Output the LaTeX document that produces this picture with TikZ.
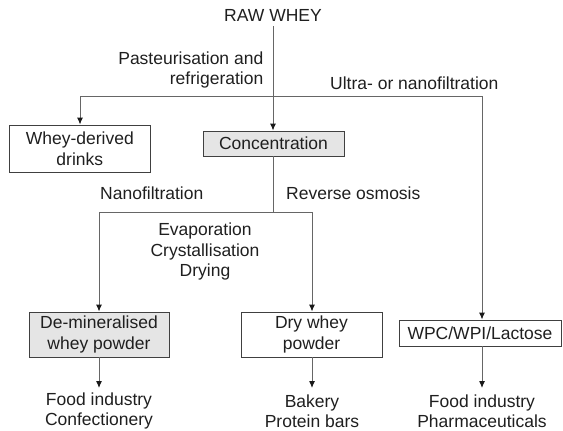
\documentclass[tikz,border=0pt]{standalone}
\usepackage{fontspec}
\setmainfont{Liberation Sans}
\usetikzlibrary{arrows.meta}
\begin{document}
\begin{tikzpicture}[x=1pt,y=-1pt,
  every node/.style={font=\fontsize{17.5}{20.5}\selectfont, text=black!88, inner sep=0pt},
  box/.style={draw=black!75, line width=0.9pt, align=center, minimum height=26pt},
  grey/.style={fill=black!10},
  conn/.style={draw=black!60, line width=1pt},
  arr/.style={conn, -{Latex[length=7pt,width=6pt,color=black!90]}},
  lbl/.style={align=center}]
\useasboundingbox (0,0) rectangle (563,431);
% nodes
\node (raw) at (273,15) {RAW WHEY};
\node[box, minimum width=141.5pt, minimum height=47pt] (drinks) at (79.8,148.5) {Whey-derived\\drinks};
\node[box, grey, minimum width=141pt, minimum height=25pt] (conc) at (273.5,143.5) {Concentration};
\node[box, grey, minimum width=140pt, minimum height=45pt] (demin) at (99,334.5) {De-mineralised\\whey powder};
\node[box, minimum width=141pt, minimum height=45pt] (dry) at (311.5,334.5) {Dry whey\\powder};
\node[box, minimum width=162pt, minimum height=26pt] (wpc) at (480,333) {WPC/WPI/Lactose};
% labels
\node[anchor=east, align=right] (past) at (263.5,70) {Pasteurisation and\\refrigeration};
\node[anchor=west] (ultra) at (330,83) {Ultra- or nanofiltration};
\node[anchor=west] (nano) at (100,193) {Nanofiltration};
\node[anchor=west] (rev) at (286,193) {Reverse osmosis};
\node[lbl] (evap) at (205,251.5) {Evaporation\\Crystallisation\\Drying};
\node[lbl] (use1) at (99,411) {Food industry\\Confectionery};
\node[lbl] (use2) at (312,411) {Bakery\\Protein bars};
\node[lbl] (use3) at (482,411) {Food industry\\Pharmaceuticals};
% junction coordinates
\coordinate (hL) at (80,96);
\coordinate (hR) at (482,96);
\coordinate (jL) at (99,212);
\coordinate (jR) at (312,212);
\coordinate (jC) at (273.5,212);
\coordinate (t1) at (99,388);
\coordinate (t2) at (312,388);
\coordinate (t3) at (482,388);
% connectors
\draw[arr] (raw.south) ++(0,5) -- (raw.south |- conc.north);
\draw[conn] (hL) -- (hR);
\draw[arr] (hL) -- (hL |- drinks.north);
\draw[arr] (hR) -- (hR |- wpc.north);
\draw[conn] (conc.south) -- (jC);
\draw[conn] (jL) -- (jR);
\draw[arr] (jL) -- (jL |- demin.north);
\draw[arr] (jR) -- (jR |- dry.north);
\draw[arr] (demin.south) -- (t1);
\draw[arr] (jR |- dry.south) -- (t2);
\draw[arr] (hR |- wpc.south) -- (t3);
\end{tikzpicture}
\end{document}
